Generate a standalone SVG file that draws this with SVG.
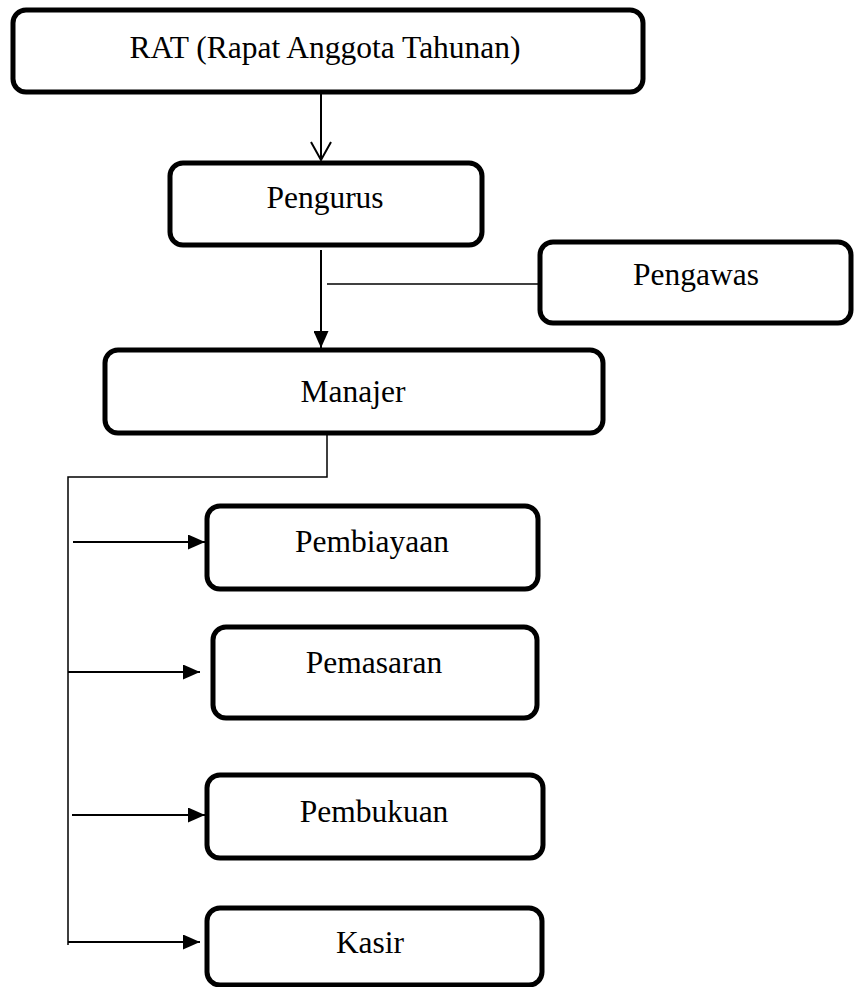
<svg xmlns="http://www.w3.org/2000/svg" width="855" height="987" viewBox="0 0 855 987">
<style>
.box{fill:#fff;stroke:#000;stroke-width:5}
.lbl{font-family:"Liberation Serif","Times New Roman",serif;font-size:31.5px;fill:#000;text-anchor:middle}
.ln{stroke:#000;stroke-width:2;fill:none}
.thin{stroke:#000;stroke-width:1.5;fill:none}
</style>
<defs>
<marker id="arr" markerUnits="userSpaceOnUse" markerWidth="17" markerHeight="15" refX="17" refY="7.5" orient="auto">
<path d="M0,0 L17,7.5 L0,15 z" fill="#000"/>
</marker>
</defs>
<rect width="855" height="987" fill="#fff"/>
<g id="connectors">
<line class="ln" x1="321" y1="93" x2="321" y2="160"/>
<polyline class="ln" points="311,142 321,160 331,142"/>
<line class="ln" x1="321" y1="250" x2="321" y2="348" marker-end="url(#arr)"/>
<line class="thin" x1="327" y1="284" x2="539" y2="284"/>
<polyline class="thin" points="327,433 327,477 68,477 68,945"/>
<line class="ln" x1="73" y1="542" x2="205" y2="542" marker-end="url(#arr)"/>
<line class="ln" x1="68" y1="672" x2="200" y2="672" marker-end="url(#arr)"/>
<line class="ln" x1="72" y1="815" x2="205" y2="815" marker-end="url(#arr)"/>
<line class="ln" x1="68" y1="942" x2="200" y2="942" marker-end="url(#arr)"/>
</g>
<g id="rat">
<rect class="box" x="13" y="10" width="630" height="82" rx="13"/>
<text class="lbl" x="325" y="58">RAT (Rapat Anggota Tahunan)</text>
</g>
<g id="pengurus">
<rect class="box" x="170" y="163" width="312" height="82" rx="13"/>
<text class="lbl" x="325" y="208">Pengurus</text>
</g>
<g id="pengawas">
<rect class="box" x="540" y="242" width="311" height="81" rx="13"/>
<text class="lbl" x="696" y="285">Pengawas</text>
</g>
<g id="manajer">
<rect class="box" x="105" y="350" width="498" height="83" rx="13"/>
<text class="lbl" x="353" y="402">Manajer</text>
</g>
<g id="pembiayaan">
<rect class="box" x="207" y="506" width="331" height="83" rx="13"/>
<text class="lbl" x="372" y="552">Pembiayaan</text>
</g>
<g id="pemasaran">
<rect class="box" x="213" y="627" width="324" height="91" rx="13"/>
<text class="lbl" x="374" y="673">Pemasaran</text>
</g>
<g id="pembukuan">
<rect class="box" x="207" y="775" width="336" height="83" rx="13"/>
<text class="lbl" x="374" y="822">Pembukuan</text>
</g>
<g id="kasir">
<rect class="box" x="207" y="908" width="335" height="77" rx="13"/>
<text class="lbl" x="370" y="953">Kasir</text>
</g>
</svg>
